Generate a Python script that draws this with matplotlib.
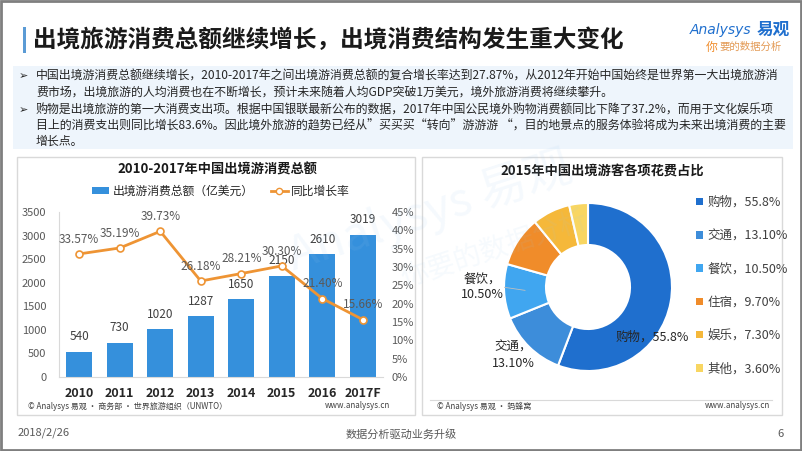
import matplotlib
matplotlib.use("Agg")
import matplotlib.pyplot as plt
from matplotlib.patches import Rectangle, Patch
from matplotlib.lines import Line2D
from matplotlib.ticker import FuncFormatter, MultipleLocator

plt.rcParams['font.family'] = ['Noto Sans CJK SC', 'DejaVu Sans']

# ---------------- data ----------------
years = ['2010', '2011', '2012', '2013', '2014', '2015', '2016', '2017F']
spend = [540, 730, 1020, 1287, 1650, 2150, 2610, 3019]
growth = [33.57, 35.19, 39.73, 26.18, 28.21, 30.30, 21.40, 15.66]
growth_labels = ['33.57%', '35.19%', '39.73%', '26.18%', '28.21%', '30.30%', '21.40%', '15.66%']

cats = ['购物', '交通', '餐饮', '住宿', '娱乐', '其他']
shares = [55.8, 13.10, 10.50, 9.70, 7.30, 3.60]
share_labels = ['55.8%', '13.10%', '10.50%', '9.70%', '7.30%', '3.60%']

title = '出境旅游消费总额继续增长，出境消费结构发生重大变化'
bullets = [
    '中国出境游消费总额继续增长，2010-2017年之间出境游消费总额的复合增长率达到27.87%，从2012年开始中国始终是世界第一大出境旅游消',
    '费市场，出境旅游的人均消费也在不断增长，预计未来随着人均GDP突破1万美元，境外旅游消费将继续攀升。',
    '购物是出境旅游的第一大消费支出项。根据中国银联最新公布的数据，2017年中国公民境外购物消费额同比下降了37.2%，而用于文化娱乐项',
    '目上的消费支出则同比增长83.6%。因此境外旅游的趋势已经从”买买买“转向”游游游 “，目的地景点的服务体验将成为未来出境消费的主要',
    '增长点。',
]
bullet_starts = [True, False, True, False, False]

W, H = 802, 451
fig = plt.figure(figsize=(W / 100, H / 100), dpi=100)
fig.patch.set_facecolor('white')

def fx(x):
    return x / W

def fy(y):
    return 1 - y / H

def frect(x0, y0, x1, y1, **kw):
    r = Rectangle((fx(x0), fy(y1)), fx(x1) - fx(x0), fy(y0) - fy(y1),
                  transform=fig.transFigure, **kw)
    fig.add_artist(r)
    return r

# outer frame
frect(1, 1, 801, 450, facecolor='none', edgecolor='#7F7F7F', linewidth=2, zorder=10)

# title
frect(23, 27, 26, 53, facecolor='#5B9BD5', edgecolor='none')
fig.text(fx(33), fy(40), title, fontsize=17, fontweight='bold', color='#1A1A1A',
         ha='left', va='center')

# logo
fig.text(fx(690), fy(30), 'Analysys', fontsize=10, color='#1F6FCE', style='italic',
         ha='left', va='center', family=['DejaVu Sans'])
fig.text(fx(757), fy(30), '易观', fontsize=12, fontweight='bold', color='#1F6FCE',
         ha='left', va='center')
fig.text(fx(706), fy(47), '你', fontsize=8.5, color='#F08C2A', ha='left', va='center')
fig.text(fx(719), fy(47), '要的数据分析', fontsize=7.5, color='#E39A55', ha='left', va='center')

# text box
frect(13, 66, 793, 149, facecolor='#EEF5FC', edgecolor='none', zorder=0)
line_y = [76, 92, 110, 126, 141]
for txt, yy, st in zip(bullets, line_y, bullet_starts):
    if st:
        fig.text(fx(19), fy(yy), '➢', fontsize=8, color='#262626', ha='left', va='center',
                 family=['DejaVu Sans'])
    fig.text(fx(36), fy(yy), txt, fontsize=8.6, color='#262626', ha='left', va='center')

# panels
frect(17, 157, 415, 415, facecolor='white', edgecolor='#D9D9D9', linewidth=1, zorder=0)
frect(422, 157, 782, 415, facecolor='white', edgecolor='#D9D9D9', linewidth=1, zorder=0)

# ---------------- chart 1 ----------------
ax = fig.add_axes([fx(59), fy(377), fx(383) - fx(59), fy(212) - fy(377)])
ax.set_facecolor('none')
x = list(range(len(years)))
bar_color = '#3590DC'
line_color = '#EE9434'
ax.bar(x, spend, width=0.64, color=bar_color, zorder=2)
ax.set_xlim(-0.5, len(years) - 0.5)
ax.set_ylim(0, 3500)
ax.yaxis.set_major_locator(MultipleLocator(500))
ax.set_xticks(x)
ax.set_xticklabels(years, fontsize=9, fontweight='bold', color='#262626')
ax.tick_params(axis='x', length=0, pad=7)
ax.tick_params(axis='y', length=0, pad=9, labelsize=8, labelcolor='#595959')
for s in ['top', 'right']:
    ax.spines[s].set_visible(False)
for s in ['left', 'bottom']:
    ax.spines[s].set_color('#D9D9D9')
    ax.spines[s].set_linewidth(0.8)
for xi, v in zip(x, spend):
    ax.annotate(str(v), (xi, v), xytext=(0, 6), textcoords='offset points',
                ha='center', va='bottom', fontsize=8.5, color='#404040', zorder=5)

ax2 = ax.twinx()
ax2.set_ylim(0, 45)
ax2.yaxis.set_major_locator(MultipleLocator(5))
ax2.yaxis.set_major_formatter(FuncFormatter(lambda v, p: f'{v:.0f}%'))
ax2.tick_params(axis='y', length=0, pad=6, labelsize=8, labelcolor='#595959')
for s in ['top', 'right', 'left', 'bottom']:
    ax2.spines[s].set_visible(False)
ax2.plot(x, growth, color=line_color, linewidth=2, marker='o', markersize=5,
         markerfacecolor='white', markeredgecolor=line_color, markeredgewidth=1.2, zorder=3)
for xi, v, lab in zip(x, growth, growth_labels):
    ax2.annotate(lab, (xi, v), xytext=(0, 6), textcoords='offset points',
                 ha='center', va='bottom', fontsize=8.5, color='#595959', zorder=5)

fig.text(fx(217), fy(170), '2010-2017年中国出境游消费总额', fontsize=9.5, fontweight='bold',
         color='#1A1A1A', ha='center', va='center')
handles = [Patch(facecolor=bar_color, edgecolor='none'),
           Line2D([0], [0], color=line_color, linewidth=2, marker='o', markersize=4.5,
                  markerfacecolor='white', markeredgecolor=line_color)]
leg = ax.legend(handles, ['出境游消费总额（亿美元）', '同比增长率'], ncol=2, loc='center',
                bbox_to_anchor=(fx(221), fy(191)), bbox_transform=fig.transFigure,
                frameon=False, fontsize=8.5, handlelength=1.4, handleheight=0.5,
                handletextpad=0.3, columnspacing=1.5)
for t in leg.get_texts():
    t.set_color('#262626')

fig.text(fx(28), fy(406), '© Analysys 易观 · 商务部 · 世界旅游组织（UNWTO）', fontsize=5.8,
         color='#404040', ha='left', va='center')
fig.text(fx(390), fy(406), 'www.analysys.cn', fontsize=5.8, color='#404040', ha='right', va='center')

# ---------------- chart 2 ----------------
pie_colors = ['#1F6FCE', '#3D8DDA', '#40A6F0', '#F08C2A', '#F5B83A', '#F8D662']
R = 84
cx, cy = 588, 287
axp = fig.add_axes([fx(cx - R), fy(cy + R), fx(2 * R), (2 * R) / H])
axp.pie(shares, colors=pie_colors, startangle=90, counterclock=False, radius=1,
        wedgeprops=dict(width=0.5, edgecolor='white', linewidth=1.5))
axp.set_xlim(-1, 1)
axp.set_ylim(-1, 1)
axp.set_aspect('equal')
axp.axis('off')

axp.text(0.76, -0.595, f'{cats[0]}，{share_labels[0]}', fontsize=9, color='#262626',
         ha='center', va='center')
axp.text(-0.89, -0.81, f'{cats[1]}，\n{share_labels[1]}', fontsize=9, color='#262626',
         ha='center', va='center', linespacing=1.3)
axp.text(-1.26, 0.0, f'{cats[2]}，\n{share_labels[2]}', fontsize=9, color='#262626',
         ha='center', va='center', linespacing=1.3)
axp.plot([-1.02, -0.75], [0.0, -0.04], color='#BFBFBF', linewidth=0.6)

fig.text(fx(602), fy(172), '2015年中国出境游客各项花费占比', fontsize=9.5, fontweight='bold',
         color='#1A1A1A', ha='center', va='center')
phandles = [Patch(facecolor=c, edgecolor='none') for c in pie_colors]
plabels = [f'{c}，{s}' for c, s in zip(cats, share_labels)]
pleg = fig.legend(phandles, plabels, loc='upper left', bbox_to_anchor=(fx(696), fy(196)),
                  bbox_transform=fig.transFigure, frameon=False, fontsize=9,
                  handlelength=0.55, handleheight=0.55, handletextpad=0.4,
                  labelspacing=1.62, borderaxespad=0, borderpad=0)
for t in pleg.get_texts():
    t.set_color('#404040')

fig.add_artist(Line2D([fx(430), fx(772)], [fy(400), fy(400)], transform=fig.transFigure,
                      color='#D9D9D9', linewidth=0.8))
fig.text(fx(437), fy(406), '© Analysys 易观 · 蚂蜂窝', fontsize=5.8, color='#404040',
         ha='left', va='center')
fig.text(fx(770), fy(406), 'www.analysys.cn', fontsize=5.8, color='#404040', ha='right', va='center')

# watermark (very faint)
fig.text(fx(430), fy(212), 'Analysys 易观', fontsize=34, color='#9CC9EE', alpha=0.10,
         rotation=18, ha='center', va='center', zorder=20)
fig.text(fx(495), fy(250), '你要的数据分析', fontsize=20, color='#9CC9EE', alpha=0.09,
         rotation=18, ha='center', va='center', zorder=20)

# footer
fig.text(fx(18), fy(433), '2018/2/26', fontsize=8, color='#595959', ha='left', va='center')
fig.text(fx(401), fy(434), '数据分析驱动业务升级', fontsize=8, color='#595959', ha='center', va='center')
fig.text(fx(780), fy(434), '6', fontsize=8, color='#595959', ha='center', va='center')

fig.savefig('out.png', dpi=100)
